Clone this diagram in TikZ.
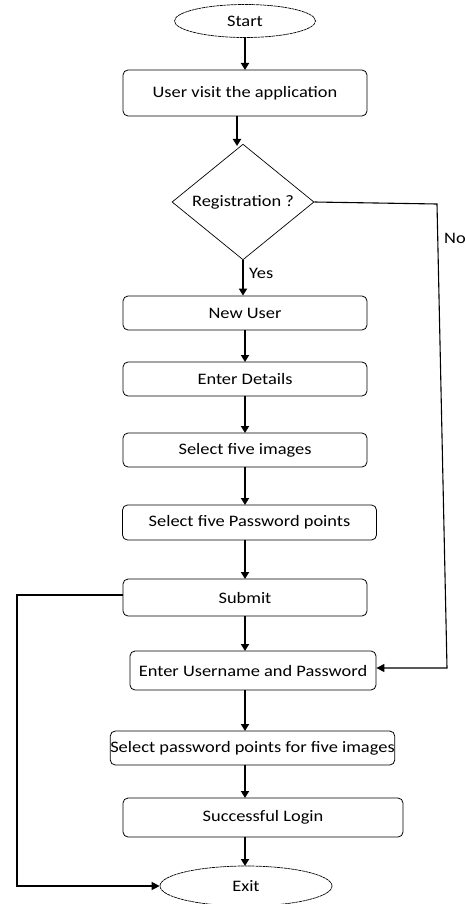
\documentclass[tikz,border=0pt]{standalone}
\usepackage{fontspec}
\setmainfont[FakeStretch=1.15]{Carlito}
\usetikzlibrary{shapes.geometric,arrows.meta}
\begin{document}
\begin{tikzpicture}[x=1pt,y=-1pt,
  every node/.style={font=\fontsize{16}{19}\selectfont, inner sep=0pt},
  proc/.style={draw, line width=0.8pt, rounded corners=5pt},
  term/.style={draw, ellipse, line width=0.7pt, dashed, dash pattern=on 3pt off 0.6pt},
  dec/.style={draw, diamond, line width=0.7pt},
  flow/.style={line width=2pt, -{Triangle[width=8pt,length=7pt]}},
  thin/.style={line width=1.1pt, -{Triangle[width=8pt,length=8pt]}}]
\useasboundingbox (0,0) rectangle (464,904);
\fill[white] (0,0) rectangle (464,904);
\node[term, minimum width=141, minimum height=33] (start) at (245,21) {Start};
\node[proc, minimum width=244, minimum height=46] (u1) at (245,93) {User visit the application};
\node[dec, minimum width=142, minimum height=111] (reg) at (243,202) {Registration ?};
\node[proc, minimum width=244, minimum height=34] (nu) at (245,313) {New User};
\node[proc, minimum width=244, minimum height=34] (ed) at (245,379) {Enter Details};
\node[proc, minimum width=244, minimum height=34] (sfi) at (245,450) {Select five images};
\node[proc, minimum width=254, minimum height=35] (sfp) at (249.5,522.5) {Select five Password points};
\node[proc, minimum width=244, minimum height=37] (sub) at (245,597.5) {Submit};
\node[proc, minimum width=246, minimum height=39] (eup) at (253,670.5) {Enter Username and Password};
\node[proc, minimum width=271, minimum height=34] (spp) at (252.5,748) {Select password points for five images};
\node[proc, minimum width=280, minimum height=39] (sl) at (263,817.5) {Successful Login};
\node[term, minimum width=172, minimum height=40] (exit) at (246,886) {Exit};

\node[anchor=west] (yes) at (249,273) {Yes};
\node[anchor=west] (no) at (444,238) {No};

\coordinate (s1) at (245,38);
\draw[flow] (s1) -- (245,70);
\draw[flow] (237,116) -- (237,146);
\draw[flow] (reg.south) -- (reg.south |- nu.north);
\draw[flow] (nu.south -| 245,0) -- (245,362);
\draw[flow] (245,396) -- (245,433);
\draw[flow] (245,467) -- (245,505);
\draw[flow] (245,540) -- (245,579);
\draw[flow] (245,616) -- (245,651);
\draw[flow] (245,690) -- (245,731);
\draw[flow] (245,765) -- (245,798);
\draw[flow] (245,837) -- (245,866);

\coordinate (n1) at (437,204);
\coordinate (n2) at (447,668);
\draw[thin] (reg.east) -- (n1) -- (n2) -- (eup.east |- n2);
\coordinate (b1) at (17,595);
\coordinate (b2) at (17,886);
\draw[thin] (sub.west |- b1) -- (b1) -- (b2) -- (exit.west);
\end{tikzpicture}
\end{document}
